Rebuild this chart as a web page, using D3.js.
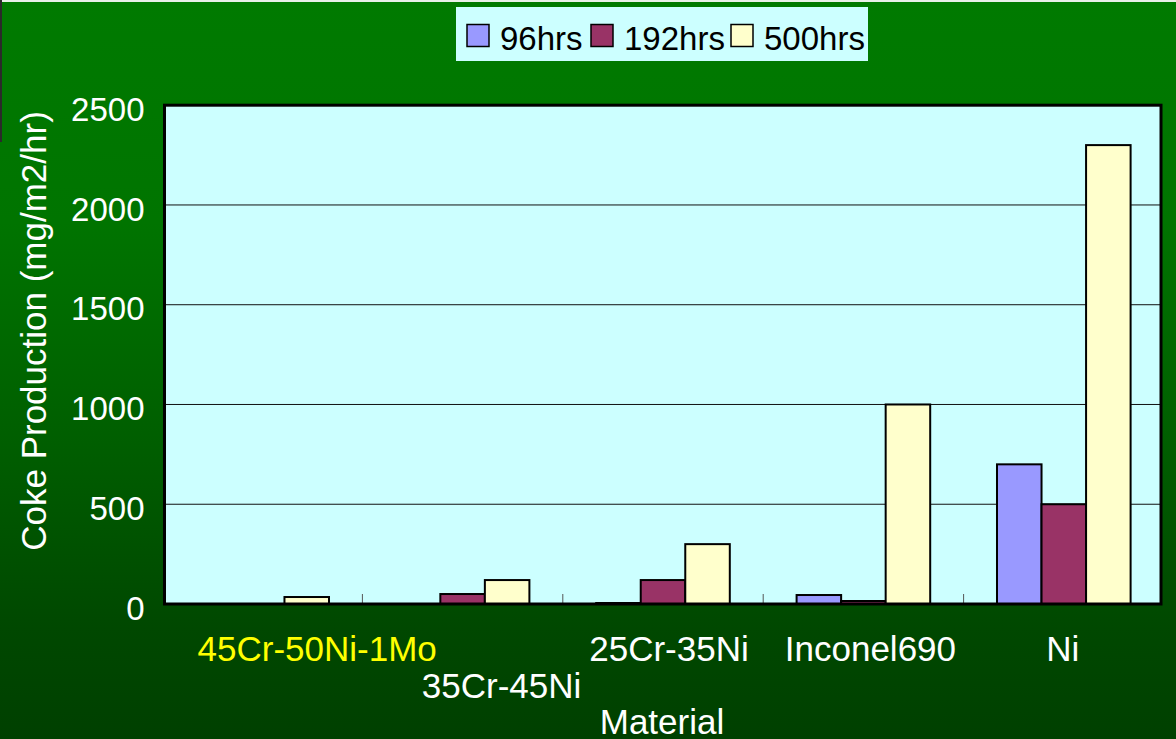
<!DOCTYPE html>
<html>
<head>
<meta charset="utf-8">
<script src="https://cdn.jsdelivr.net/npm/d3@7"></script>
<style>
  html, body { margin: 0; padding: 0; background: #004000; }
  svg { display: block; }
  text { font-family: "Liberation Sans", Arial, sans-serif; }
</style>
</head>
<body>
<svg id="chart" width="1176" height="739"></svg>
<script>
// Coke production per material after three exposure times
const materials = ["45Cr-50Ni-1Mo", "35Cr-45Ni", "25Cr-35Ni", "Inconel690", "Ni"];
const seriesNames = ["96hrs", "192hrs", "500hrs"];
const hrs96  = [0, 0, 5, 45, 700];
const hrs192 = [0, 50, 120, 15, 500];
const hrs500 = [35, 120, 300, 1000, 2300];
const yTicks = [0, 500, 1000, 1500, 2000, 2500];

const seriesValues = [hrs96, hrs192, hrs500];
const seriesColors = ["#9999ff", "#993366", "#ffffcc"];

const W = 1176, H = 739;
const plot = { left: 164.5, right: 1161, top: 105.2, bottom: 604 };

const svg = d3.select("#chart");

// background gradient
const defs = svg.append("defs");
const grad = defs.append("linearGradient").attr("id", "bg")
  .attr("x1", 0).attr("y1", 0).attr("x2", 0).attr("y2", 1);
[[0, "#007a00"], [0.3, "#007400"], [0.6, "#005e00"], [0.85, "#004800"], [1, "#004000"]]
  .forEach(([o, c]) => grad.append("stop").attr("offset", o).attr("stop-color", c));
svg.append("rect").attr("width", W).attr("height", H).attr("fill", "url(#bg)");
svg.append("rect").attr("x", 0).attr("y", 0).attr("width", W).attr("height", 2).attr("fill", "#e8f0e8");
svg.append("rect").attr("x", 0).attr("y", 0).attr("width", 2).attr("height", 142).attr("fill", "#2a2a2a");

// scales (category bands span slightly past the frame, as the category axis is laid out)
const x0 = d3.scaleBand().domain(materials).range([162, 1164]).padding(0);
const x1 = d3.scaleBand().domain(seriesNames).range([0, x0.bandwidth()])
  .paddingInner(0).paddingOuter(0.75);
const y = d3.scaleLinear().domain([0, 2500]).range([plot.bottom, plot.top]);

// plot area
svg.append("rect")
  .attr("x", plot.left).attr("y", plot.top)
  .attr("width", plot.right - plot.left).attr("height", plot.bottom - plot.top)
  .attr("fill", "#ccffff");

// gridlines
svg.append("g").selectAll("line").data(yTicks.filter(d => d > 0)).join("line")
  .attr("x1", plot.left).attr("x2", plot.right)
  .attr("y1", d => y(d)).attr("y2", d => y(d))
  .attr("stroke", "#111").attr("stroke-width", 1);

// category tick marks along the baseline
svg.append("g").selectAll("line").data(materials.slice(1)).join("line")
  .attr("x1", d => x0(d)).attr("x2", d => x0(d))
  .attr("y1", plot.bottom).attr("y2", plot.bottom - 10)
  .attr("stroke", "#555").attr("stroke-width", 1);

// bars
const groups = svg.append("g").selectAll("g").data(materials).join("g")
  .attr("transform", d => `translate(${x0(d)},0)`);
groups.selectAll("rect")
  .data((m, i) => seriesNames.map((s, k) => ({ s, k, v: seriesValues[k][i] })))
  .join("rect")
  .attr("x", d => x1(d.s))
  .attr("width", x1.bandwidth())
  .attr("y", d => y(d.v))
  .attr("height", d => y(0) - y(d.v))
  .attr("fill", d => seriesColors[d.k])
  .attr("stroke", "#000").attr("stroke-width", 2);

// plot border
svg.append("rect")
  .attr("x", plot.left).attr("y", plot.top)
  .attr("width", plot.right - plot.left).attr("height", plot.bottom - plot.top)
  .attr("fill", "none").attr("stroke", "#000").attr("stroke-width", 3);

// y axis labels
const yAxis = d3.axisLeft(y).tickValues(yTicks).tickSize(0).tickPadding(20).tickFormat(d3.format("d"));
const yg = svg.append("g").attr("transform", `translate(${plot.left},0)`).call(yAxis);
yg.select(".domain").remove();
yg.selectAll("text").attr("fill", "#fff").attr("font-size", 33)
  .attr("font-family", "Liberation Sans, Arial, sans-serif").attr("dy", "0.46em");

// y axis title
svg.append("text")
  .attr("transform", `translate(46,331) rotate(-90)`)
  .attr("text-anchor", "middle")
  .attr("fill", "#fff").attr("font-size", 35)
  .text("Coke Production (mg/m2/hr)");

// category labels (first two sit offset, second one on a lower row)
const labelShift = [55, 39, 6, 7, -1];
const labelRow = [0, 1, 0, 0, 0];
const labelColor = ["#ffff00", "#fff", "#fff", "#fff", "#fff"];
svg.append("g").selectAll("text").data(materials).join("text")
  .attr("x", (d, i) => x0(d) + x0.bandwidth() / 2 + labelShift[i])
  .attr("y", (d, i) => 660.5 + labelRow[i] * 37.5)
  .attr("text-anchor", "middle")
  .attr("fill", (d, i) => labelColor[i])
  .attr("font-size", 35)
  .text(d => d);

// x axis title
svg.append("text")
  .attr("x", 662).attr("y", 734)
  .attr("text-anchor", "middle")
  .attr("fill", "#fff").attr("font-size", 35)
  .text("Material");

// legend
const legend = svg.append("g");
legend.append("rect").attr("x", 456).attr("y", 7).attr("width", 412).attr("height", 54).attr("fill", "#ccffff");
const legendX = [467, 591, 731];
seriesNames.forEach((s, k) => {
  legend.append("rect")
    .attr("x", legendX[k]).attr("y", 24.5).attr("width", 22).attr("height", 22)
    .attr("fill", seriesColors[k]).attr("stroke", "#000").attr("stroke-width", 1.5);
  legend.append("text")
    .attr("x", legendX[k] + 33).attr("y", 50)
    .attr("fill", "#000").attr("font-size", 33)
    .text(s);
});
</script>
</body>
</html>
